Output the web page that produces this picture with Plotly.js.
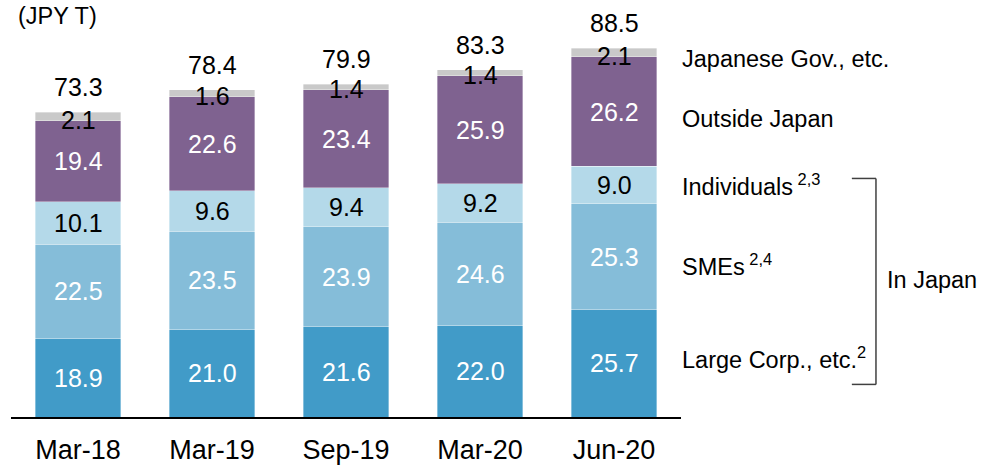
<!DOCTYPE html>
<html>
<head>
<meta charset="utf-8">
<script src="https://cdn.plot.ly/plotly-3.0.1.min.js"></script>
<style>html,body{margin:0;padding:0;background:#fff;}#chart{width:984px;height:465px;}</style>
</head>
<body>
<div id="chart"></div>
<script>
const categories = ["Mar-18", "Mar-19", "Sep-19", "Mar-20", "Jun-20"];
const largeCorp = [18.9, 21.0, 21.6, 22.0, 25.7];
const smes = [22.5, 23.5, 23.9, 24.6, 25.3];
const individuals = [10.1, 9.6, 9.4, 9.2, 9.0];
const outsideJapan = [19.4, 22.6, 23.4, 25.9, 26.2];
const japaneseGov = [2.1, 1.6, 1.4, 1.4, 2.1];
const totals = [73.3, 78.4, 79.9, 83.3, 88.5];
const seriesNames = ["Large Corp., etc.", "SMEs", "Individuals", "Outside Japan", "Japanese Gov., etc."];

const FONT = "Liberation Sans, Arial, sans-serif";
const series = [largeCorp, smes, individuals, outsideJapan, japaneseGov];
const colors = ["#419bc8", "#85bdd9", "#b4d9e9", "#7f6290", "#c9c9c9"];
const textColors = ["#ffffff", "#ffffff", "#000000", "#ffffff", "#000000"];

const traces = series.map((vals, i) => ({
  type: "bar",
  x: categories,
  y: vals,
  name: seriesNames[i],
  marker: { color: colors[i], line: { color: "rgba(255,255,255,0.6)", width: 0.6 } },
  hoverinfo: "skip"
}));

const annotations = [];
categories.forEach((c, j) => {
  let base = 0;
  series.forEach((vals, i) => {
    const v = vals[j];
    if (i < 4) {
      annotations.push({
        x: c, y: base + v / 2, xref: "x", yref: "y",
        text: v.toFixed(1), showarrow: false,
        font: { family: FONT, size: 25, color: textColors[i] },
        xanchor: "center", yanchor: "middle"
      });
    } else {
      annotations.push({
        x: c, y: base, xref: "x", yref: "y",
        text: v.toFixed(1), showarrow: false,
        font: { family: FONT, size: 25, color: textColors[i] },
        xanchor: "center", yanchor: "middle", yshift: 1
      });
    }
    base += v;
  });
  annotations.push({
    x: c, y: base, xref: "x", yref: "y",
    text: totals[j].toFixed(1), showarrow: false,
    font: { family: FONT, size: 25, color: "#000" },
    xanchor: "center", yanchor: "middle", yshift: 25
  });
});

const legendLabels = [
  { text: "Japanese Gov., etc.", y: 85.8 },
  { text: "Outside Japan", y: 71.4 },
  { text: "Individuals<sup> 2,3</sup>", y: 55.5 },
  { text: "SMEs<sup> 2,4</sup>", y: 36.5 },
  { text: "Large Corp., etc.<sup>2</sup>", y: 14.2 }
];
legendLabels.forEach(l => annotations.push({
  x: 0.999, y: l.y, xref: "paper", yref: "y", text: l.text, showarrow: false,
  font: { family: FONT, size: 23.5, color: "#000" }, xanchor: "left", yanchor: "middle"
}));
annotations.push({
  x: 1.304, y: 32.7, xref: "paper", yref: "y", text: "In Japan", showarrow: false,
  font: { family: FONT, size: 23.5, color: "#000" }, xanchor: "left", yanchor: "middle"
});
annotations.push({
  x: 0.007, y: 1.066, xref: "paper", yref: "paper", text: "(JPY T)", showarrow: false,
  font: { family: FONT, size: 23.5, color: "#000" }, xanchor: "left", yanchor: "middle"
});

const shapes = [
  { type: "line", xref: "paper", yref: "y", x0: 1.291, x1: 1.291, y0: 57.1, y1: 7.8, line: { color: "#404040", width: 1.5 } },
  { type: "line", xref: "paper", yref: "y", x0: 1.255, x1: 1.291, y0: 57.1, y1: 57.1, line: { color: "#404040", width: 1.5 } },
  { type: "line", xref: "paper", yref: "y", x0: 1.255, x1: 1.291, y0: 7.8, y1: 7.8, line: { color: "#404040", width: 1.5 } }
];

const layout = {
  width: 984, height: 465,
  margin: { l: 11, r: 303, t: 41, b: 48, pad: 0 },
  barmode: "stack",
  bargap: 0.36,
  showlegend: false,
  paper_bgcolor: "#fff", plot_bgcolor: "#fff",
  xaxis: {
    type: "category", showline: true, linecolor: "#000", linewidth: 1.5,
    ticks: "", showgrid: false, zeroline: false, ticklabelstandoff: 8,
    tickfont: { family: FONT, size: 27, color: "#000" }
  },
  yaxis: { range: [0, 90], visible: false, showgrid: false, zeroline: false },
  annotations: annotations,
  shapes: shapes
};

Plotly.newPlot("chart", traces, layout, { displayModeBar: false, staticPlot: true });
</script>
</body>
</html>
